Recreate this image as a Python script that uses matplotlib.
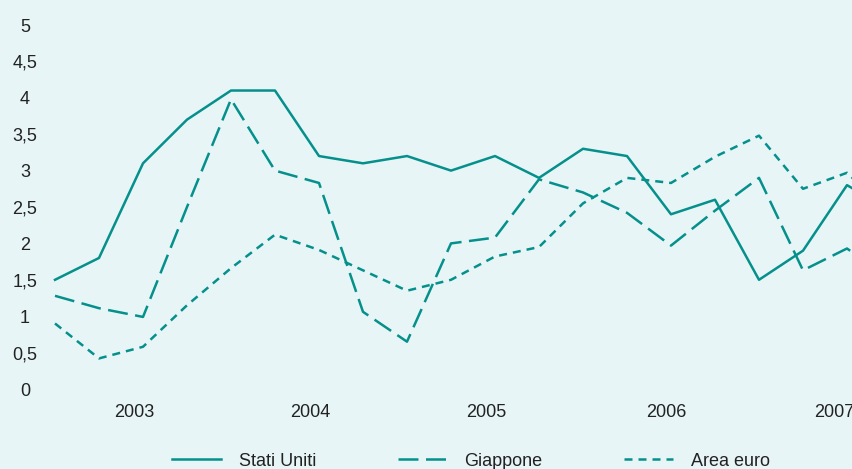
import matplotlib
matplotlib.use("Agg")
import matplotlib.pyplot as plt

# trimestri (2002 T4 ... 2007 T3), l'ultimo punto esce dal riquadro
stati_uniti = [1.5, 1.8, 3.1, 3.7, 4.1, 4.1, 3.2, 3.1, 3.2, 3.0, 3.2, 2.9,
               3.3, 3.2, 2.4, 2.6, 1.5, 1.9, 2.8, 2.45]
giappone = [1.28, 1.11, 0.99, 2.5, 3.98, 3.0, 2.83, 1.06, 0.65, 2.0, 2.08, 2.88,
            2.7, 2.42, 1.97, 2.45, 2.9, 1.63, 1.93, 1.5]
area_euro = [0.9, 0.42, 0.58, 1.15, 1.66, 2.12, 1.91, 1.63, 1.35, 1.5, 1.82, 1.95,
             2.55, 2.9, 2.83, 3.19, 3.48, 2.75, 2.97, 2.4]
anni = ["2003", "2004", "2005", "2006", "2007"]
pos_anni = [1.8, 5.8, 9.8, 13.9, 17.7]
y_ticks = [0, 0.5, 1, 1.5, 2, 2.5, 3, 3.5, 4, 4.5, 5]

sfondo = "#e8f5f6"
verde = "#05908c"
testo = "#222222"

plt.rcParams["font.family"] = ["Liberation Sans", "DejaVu Sans"]

W, H = 853, 469
fig = plt.figure(figsize=(W / 100, H / 100), dpi=100, facecolor=sfondo)

# asse: da x=45px a 853px, y da 389px (0) a 25px (5)
left_px, right_px = 45, 853
top_px, bottom_px = 25, 389
ax = fig.add_axes([left_px / W, 1 - bottom_px / H,
                   (right_px - left_px) / W, (bottom_px - top_px) / H])
ax.set_facecolor(sfondo)
for s in ax.spines.values():
    s.set_visible(False)

x = list(range(len(stati_uniti)))
lw = 1.8
ax.plot(x, stati_uniti, color=verde, lw=lw, label="Stati Uniti")
ax.plot(x, giappone, color=verde, lw=lw, dashes=(8.0, 3.0), label="Giappone")
ax.plot(x, area_euro, color=verde, lw=lw, dashes=(3.2, 2.4), label="Area euro")

px_per_unit = 44.0
ax.set_xlim((left_px - 55) / px_per_unit, (right_px - 55) / px_per_unit)
ax.set_ylim(0, 5)

ax.set_yticks(y_ticks)
ax.set_yticklabels([("%g" % v).replace(".", ",") for v in y_ticks],
                   fontsize=13, color=testo, ha="center")
ax.set_xticks(pos_anni)
ax.set_xticklabels(anni, fontsize=13, color=testo)
ax.tick_params(axis="y", length=0, pad=14.4)
ax.tick_params(axis="x", length=0, pad=11)

fig.legend(loc="center", bbox_to_anchor=(0.552, 1 - 461 / H), ncol=3,
           frameon=False, fontsize=13, handlelength=2.7, handletextpad=1.0,
           columnspacing=4.5, labelcolor=testo)

fig.savefig("out.png", dpi=100, facecolor=sfondo)
